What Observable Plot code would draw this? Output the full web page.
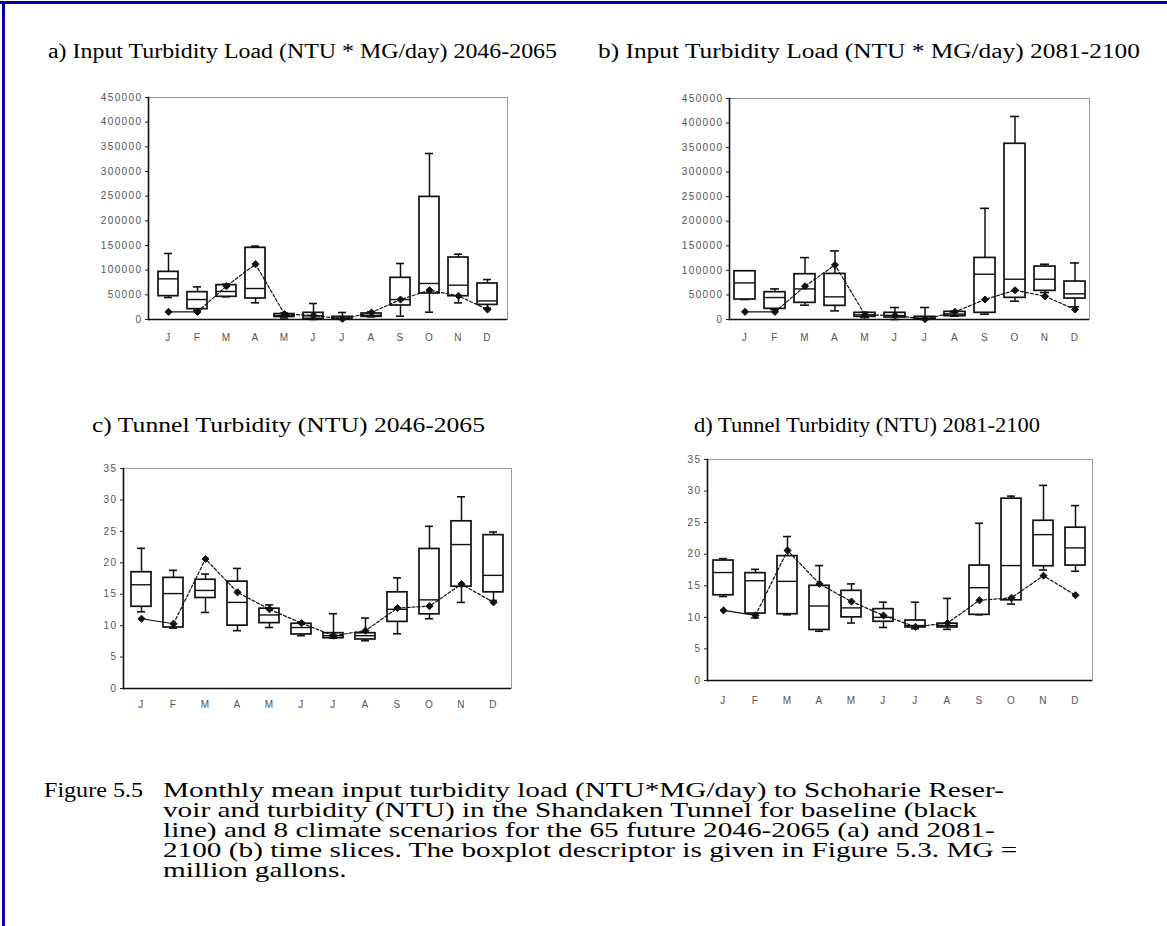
<!DOCTYPE html>
<html>
<head>
<meta charset="utf-8">
<script src="https://cdn.jsdelivr.net/npm/d3@7"></script>
<script src="https://cdn.jsdelivr.net/npm/@observablehq/plot@0.6"></script>
<style>
  html, body { margin: 0; padding: 0; background: #fff; }
  #page { position: relative; width: 1167px; height: 926px; overflow: hidden; background: #fff; }
  .bord-top { position: absolute; left: 0; top: 1px; width: 1167px; height: 3px; background: #00009a; }
  .bord-left { position: absolute; left: 2px; top: 1px; width: 3px; height: 925px; background: #00009a; }
  .ptitle { position: absolute; font-family: "Liberation Serif", "Times New Roman", serif; font-size: 20px; line-height: 24px; color: #000; white-space: nowrap; transform-origin: 0 50%; }
  .panel { position: absolute; }
  .cap { position: absolute; font-family: "Liberation Serif", "Times New Roman", serif; font-size: 22px; line-height: 20px; color: #000; white-space: nowrap; transform-origin: 0 50%; }
</style>
</head>
<body>
<div id="page">
  <div class="bord-top"></div>
  <div class="bord-left"></div>
  <div class="ptitle" data-w="509" style="left:48px; top:39px;">a) Input Turbidity Load (NTU * MG/day) 2046-2065</div>
  <div class="ptitle" data-w="542" style="left:598px; top:39px;">b) Input Turbidity Load (NTU * MG/day) 2081-2100</div>
  <div class="ptitle" data-w="393" style="left:92px; top:413px;">c) Tunnel Turbidity (NTU) 2046-2065</div>
  <div class="ptitle" data-w="346" style="left:694px; top:413px;">d) Tunnel Turbidity (NTU) 2081-2100</div>
  <div id="pa" class="panel" style="left:88px; top:87px;"></div>
  <div id="pb" class="panel" style="left:669px; top:88px;"></div>
  <div id="pc" class="panel" style="left:63px; top:458px;"></div>
  <div id="pd" class="panel" style="left:647px; top:449px;"></div>
  <div class="cap" data-w="99" style="left:44px; top:780px;">Figure 5.5</div>
  <div class="cap capline" id="capfirst" data-w="841" style="left:163px; top:780px;">Monthly mean input turbidity load (NTU*MG/day) to Schoharie Reser-</div>
  <div class="cap capline" style="left:163px; top:800px;">voir and turbidity (NTU) in the Shandaken Tunnel for baseline (black</div>
  <div class="cap capline" style="left:163px; top:820px;">line) and 8 climate scenarios for the 65 future 2046-2065 (a) and 2081-</div>
  <div class="cap capline" style="left:163px; top:840px;">2100 (b) time slices. The boxplot descriptor is given in Figure 5.3. MG =</div>
  <div class="cap capline" style="left:163px; top:860px;">million gallons.</div>
</div>
<script>
// ---------- categories ----------
const monthKeys   = ["Jan","Feb","Mar","Apr","May","Jun","Jul","Aug","Sep","Oct","Nov","Dec"];
const monthLabels = ["J","F","M","A","M","J","J","A","S","O","N","D"];

// ---------- tick labels ----------
const loadTicks = [0, 50000, 100000, 150000, 200000, 250000, 300000, 350000, 400000, 450000];
const ntuTicks  = [0, 5, 10, 15, 20, 25, 30, 35];

// ---------- panel a: input turbidity load 2046-2065 ----------
const aMin  = [44600, 18900, 46000, 33800,  3000,     0,     0,  5400,   6800,  14800,  33700, 22900];
const aQ1   = [47300, 20900, 46000, 42600,  5000,  1400,     0,  5400,  28400,  52700,  47200, 29600];
const aMed  = [82400, 40500, 56800, 62800,  8000,  7400,  2700,  8500,  40500,  73000,  69500, 37700];
const aQ3   = [96600, 55400, 69600,145300, 11000, 13500,  5400, 12200,  84500, 248500, 125600, 73000];
const aMax  = [133800,66200, 71600,148700, 13000, 32400, 14200, 15500, 113500, 336500, 132400, 81000];
const aBase = [15500, 15500, 67600,112200, 11000,  8100,  1400, 14200,  40500,  59400,  47800, 20300];

// ---------- panel b: input turbidity load 2081-2100 ----------
const bMin  = [40700, 20300, 29100, 17600,  4000,     0,     0,  6800,  10800,  37300,  54900, 25800];
const bQ1   = [40700, 21700, 33900, 27800,  5400,  4100,     0,  6800,  13600,  44100,  58300, 42700];
const bMed  = [74500, 44700, 62300, 46100,  9500,  8100,  2700, 11000,  92200,  82000,  82000, 52200];
const bQ3   = [98300, 55600, 92200, 92800, 13600, 13600,  5400, 15600, 125400, 357800, 107800, 77300];
const bMax  = [98300, 62300,126000,139600, 14300, 24400, 24400, 17000, 226300, 413400, 112500, 115200];
const bBase = [15600, 15600, 67800,111100,  9500,  8100,   700, 15600,  40700,  59600,  47400, 20300];

// ---------- panel c: tunnel turbidity 2046-2065 ----------
const cMin  = [12.2,  9.6, 12.1,  9.2,  9.7,  8.4,  8.0,  7.6,  8.7, 11.1, 13.7, 14.0];
const cQ1   = [13.0,  9.7, 14.4, 10.0, 10.4,  8.6,  8.0,  7.8, 10.6, 11.8, 16.2, 15.3];
const cMed  = [16.5, 15.1, 15.6, 13.7, 11.7,  9.7,  8.4,  8.4, 12.6, 14.1, 22.9, 18.0];
const cQ3   = [18.5, 17.6, 17.3, 17.0, 12.7, 10.3,  8.8,  8.8, 15.3, 22.2, 26.6, 24.4];
const cMax  = [22.3, 18.8, 18.2, 19.1, 13.3, 10.5, 11.9, 11.2, 17.6, 25.8, 30.5, 24.9];
const cBase = [11.1, 10.3, 20.6, 15.3, 12.6, 10.4,  8.4,  9.2, 12.8, 13.1, 16.6, 13.7];

// ---------- panel d: tunnel turbidity 2081-2100 ----------
const dMin  = [13.3,  9.9, 10.4,  7.8,  9.1,  8.4,  8.2,  8.1, 10.4, 12.1, 17.5, 17.3];
const dQ1   = [13.5, 10.6, 10.5,  8.0, 10.0,  9.3,  8.4,  8.4, 10.4, 12.7, 18.1, 18.2];
const dMed  = [17.1, 15.8, 15.7, 11.8, 11.5, 10.0,  8.7,  8.7, 14.7, 18.2, 23.1, 21.0];
const dQ3   = [19.0, 17.0, 19.7, 15.0, 14.2, 11.3,  9.5,  9.0, 18.2, 28.8, 25.3, 24.2];
const dMax  = [19.3, 17.6, 22.8, 18.2, 15.3, 12.4, 12.4, 13.0, 24.9, 29.2, 30.9, 27.7];
const dBase = [11.1, 10.3, 20.6, 15.3, 12.5, 10.3,  8.5,  9.1, 12.7, 13.1, 16.6, 13.5];

function rowsOf(min, q1, med, q3, max, base) {
  return monthKeys.map((m, i) => ({month: m, min: min[i], q1: q1[i], med: med[i], q3: q3[i], max: max[i], base: base[i]}));
}
const labelOf = Object.fromEntries(monthKeys.map((k, i) => [k, monthLabels[i]]));

function panel(rows, o) {
  return Plot.plot({
    width: o.width, height: o.height,
    marginLeft: o.ml, marginRight: o.mr, marginTop: o.mt, marginBottom: o.mb,
    style: {background: "transparent", fontFamily: "'Liberation Sans', Arial, sans-serif", fontSize: o.fs + "px", color: "#555", letterSpacing: o.ls + "px"},
    x: {type: "band", domain: monthKeys, paddingInner: o.pad, paddingOuter: o.pad / 2, axis: null},
    y: {domain: o.domain, axis: null},
    marks: [
      Plot.frame({stroke: "#9a9a9a", strokeWidth: 1}),
      Plot.axisY({ticks: o.ticks, tickFormat: d3.format("d"), tickSize: 3, tickPadding: 3, stroke: "#222", fill: "#555", label: null}),
      Plot.axisX({tickSize: 0, tickPadding: o.xpad, tickFormat: d => labelOf[d], fill: "#555", label: null}),
      Plot.ruleY([o.domain[0]], {stroke: "#111", strokeWidth: 1.6}),
      Plot.frame({anchor: "left", stroke: "#111", strokeWidth: 1.6}),
      Plot.ruleX(rows, {x: "month", y1: "q3", y2: "max", stroke: "#111", strokeWidth: 1.5}),
      Plot.ruleX(rows, {x: "month", y1: "min", y2: "q1", stroke: "#111", strokeWidth: 1.5}),
      Plot.tickY(rows, {x: "month", y: "max", stroke: "#111", strokeWidth: 1.6, insetLeft: o.cap, insetRight: o.cap}),
      Plot.tickY(rows, {x: "month", y: "min", stroke: "#111", strokeWidth: 1.6, insetLeft: o.cap, insetRight: o.cap}),
      Plot.barY(rows, {x: "month", y1: "q1", y2: "q3", fill: "white", stroke: "#111", strokeWidth: 1.7}),
      Plot.tickY(rows, {x: "month", y: "med", stroke: "#111", strokeWidth: 1.4}),
      Plot.line(rows.slice(0, 2), {x: "month", y: "base", stroke: "#111", strokeWidth: 1.2}),
      Plot.line(rows.slice(1), {x: "month", y: "base", stroke: "#111", strokeWidth: 1.2, strokeDasharray: "3,2"}),
      Plot.dot(rows, {x: "month", y: "base", symbol: "diamond2", fill: "#111", stroke: "#111", strokeWidth: 1, r: 3.2})
    ]
  });
}

const common = {ml: 60, mr: 10, mt: 10, mb: 30, fs: 10, ls: 1.4, cap: 6};
document.getElementById("pa").append(panel(rowsOf(aMin, aQ1, aMed, aQ3, aMax, aBase),
  {...common, width: 429, height: 262, domain: [0, 450000], ticks: loadTicks, pad: 0.3, xpad: 14}));
document.getElementById("pb").append(panel(rowsOf(bMin, bQ1, bMed, bQ3, bMax, bBase),
  {...common, width: 430, height: 261, domain: [0, 450000], ticks: loadTicks, pad: 0.3, xpad: 14}));
document.getElementById("pc").append(panel(rowsOf(cMin, cQ1, cMed, cQ3, cMax, cBase),
  {...common, width: 458, height: 260, domain: [0, 35], ticks: ntuTicks, pad: 0.36, xpad: 12}));
document.getElementById("pd").append(panel(rowsOf(dMin, dQ1, dMed, dQ3, dMax, dBase),
  {...common, width: 455, height: 261, domain: [0, 35], ticks: ntuTicks, pad: 0.37, xpad: 16}));

// stretch serif texts horizontally to the widths seen in the reference
document.querySelectorAll(".ptitle").forEach(el => {
  const w = el.getBoundingClientRect().width;
  el.style.transform = `scaleX(${(+el.dataset.w / w).toFixed(4)})`;
});
const first = document.getElementById("capfirst");
const capScale = +first.dataset.w / first.getBoundingClientRect().width;
document.querySelectorAll(".cap").forEach(el => {
  const s = el.dataset.w ? +el.dataset.w / el.getBoundingClientRect().width : capScale;
  el.style.transform = `scaleX(${s.toFixed(4)})`;
});
</script>
</body>
</html>
